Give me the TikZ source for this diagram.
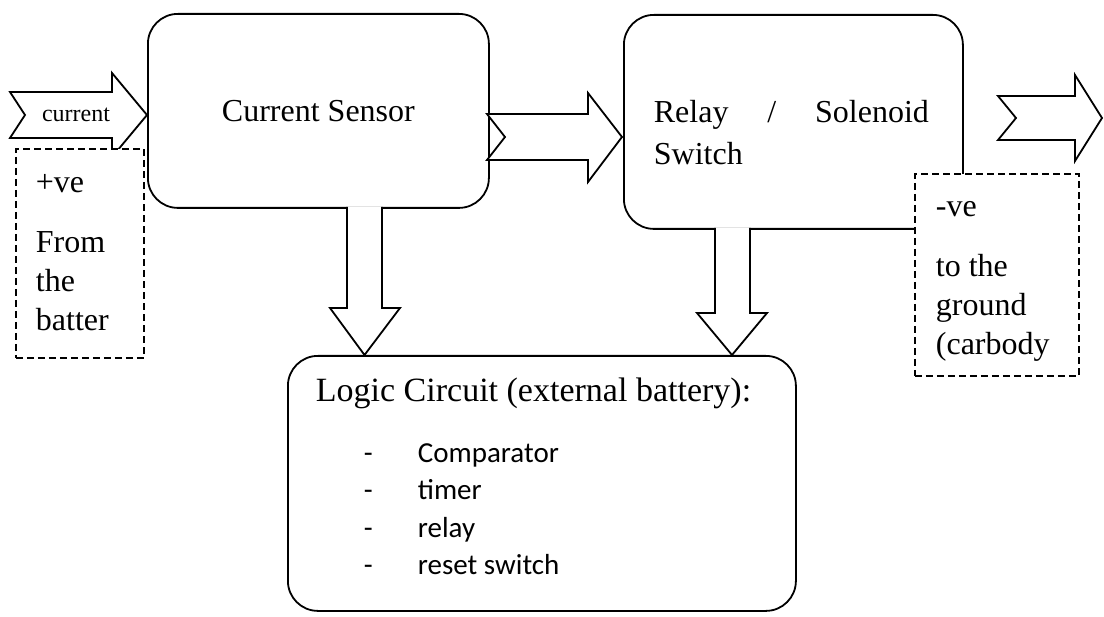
\documentclass[tikz,border=0pt]{standalone}
\usepackage{fontspec}
\setmainfont{Liberation Serif}
\newfontfamily\calfont{Carlito}
\begin{document}
\begin{tikzpicture}[x=1pt,y=-1pt,line width=1.8pt,
  box/.style={draw,rounded corners=30pt,fill=white,inner sep=0pt,anchor=north west},
  dbox/.style={draw,dash pattern=on 7pt off 4pt,fill=white,line width=1.6pt,inner sep=0pt,anchor=north west},
  blk/.style={draw,fill=white,line join=miter},
  txt/.style={font=\fontsize{32}{39}\selectfont,inner sep=0pt,anchor=base west},
  lst/.style={font=\calfont\fontsize{29}{31}\selectfont,inner sep=0pt,anchor=base west}]
\useasboundingbox (0,0) rectangle (1104,617);

% main boxes
\node[box,minimum width=508pt,minimum height=255pt] (lc) at (287,355) {};
\node[box,minimum width=341pt,minimum height=194pt] (cs) at (147,13) {};
\node[box,minimum width=339pt,minimum height=214pt] (rs) at (623,14) {};

\node[font=\fontsize{32}{39}\selectfont,inner sep=0pt] (cst) at (cs.center) {Current Sensor};
\node[txt] (rst1) at (653,123) {\makebox[275pt][s]{Relay / Solenoid}};
\node[txt] (rst2) at (653,165) {Switch};

\node[txt,font=\fontsize{34}{40}\selectfont] (lct) at (315,402) {Logic Circuit (external battery):};
\node[lst] (d1) at (363,463) {-}; \node[lst] (l1) at (417,463) {Comparator};
\node[lst] (d2) at (363,500) {-}; \node[lst] (l2) at (417,500) {timer};
\node[lst] (d3) at (363,538) {-}; \node[lst] (l3) at (417,538) {relay};
\node[lst] (d4) at (363,575) {-}; \node[lst] (l4) at (417,575) {reset switch};

% down block arrows
\draw[blk] (347,207) -- (347,308) -- (330,308) -- (364.5,355) -- (400,308) -- (382,308) -- (382,207);
\draw[blk] (715,228) -- (715,313) -- (697,313) -- (732,355) -- (767,313) -- (750,313) -- (750,228);

% middle block arrow
\draw[blk] (487,114) -- (505,137) -- (487,160) -- (588,160) -- (588,182) -- (622,137) -- (588,93) -- (588,114) -- cycle;

% left block arrow
\draw[blk] (10,92) -- (25,115) -- (10,138) -- (112,138) -- (112,157) -- (147,115) -- (112,73) -- (112,92) -- cycle;
\node[font=\fontsize{24}{26}\selectfont,inner sep=0pt,anchor=base] (cur) at (76,122) {current};

% left dashed box
\node[dbox,minimum width=128pt,minimum height=209pt] (pb) at (15,148) {};
\node[txt] (p1) at (35,193) {+ve};
\node[txt] (p2) at (35,253) {From};
\node[txt] (p3) at (35,292) {the};
\node[txt] (p4) at (35,331) {batter};

% right block arrow
\draw[blk] (998,96) -- (1016,118) -- (998,140) -- (1075,140) -- (1075,161) -- (1102,118) -- (1075,75) -- (1075,96) -- cycle;

% right dashed box
\node[dbox,minimum width=164pt,minimum height=202pt] (nb) at (914,173) {};
\node[txt] (n1) at (935,217) {-ve};
\node[txt] (n2) at (935,277) {to the};
\node[txt] (n3) at (935,316) {ground};
\node[txt] (n4) at (935,355) {(carbody};
\end{tikzpicture}
\end{document}
